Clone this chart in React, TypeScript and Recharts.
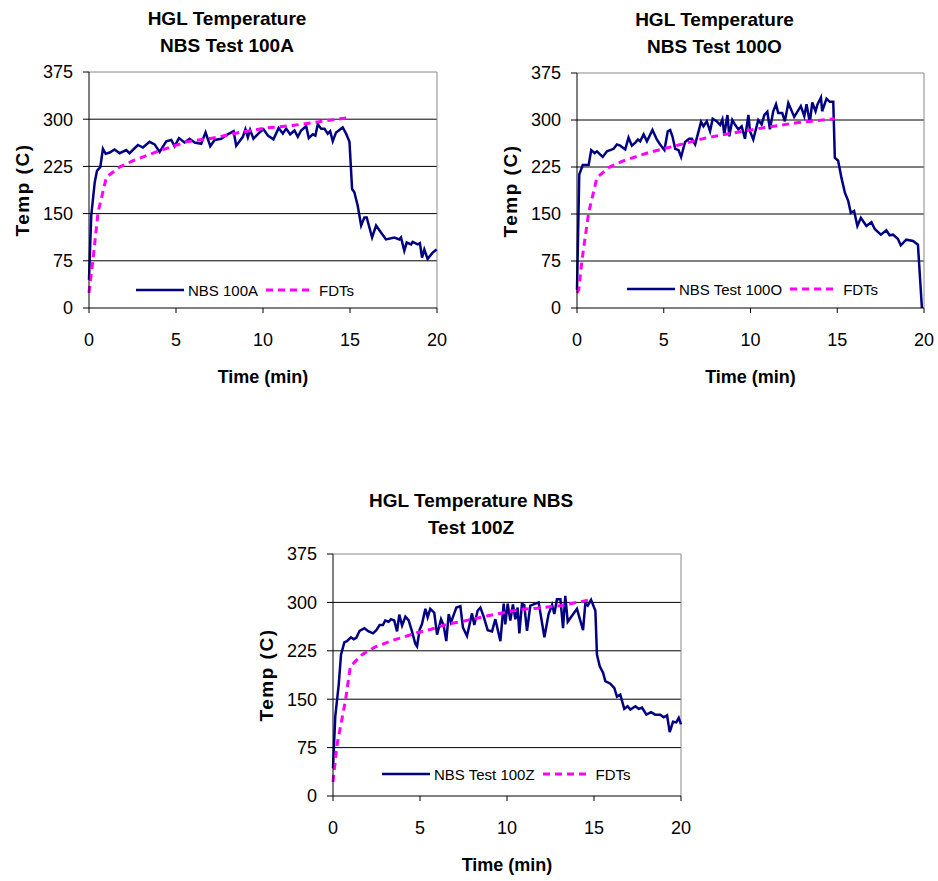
import { LineChart, Line, XAxis, YAxis, CartesianGrid, ReferenceLine, Legend } from "recharts";

type Pt = [number, number];

const TIME_TICKS = [0, 5, 10, 15, 20];
const TEMP_TICKS = [0, 75, 150, 225, 300, 375];
const GRID_TEMPS = [75, 150, 225, 300];

// NBS Test 100A  [time (min), temp (C)]
const nbs100A: Pt[] = [
  [0, 45], [0.13, 147], [0.33, 200], [0.46, 218], [0.65, 224], [0.8, 253], [0.96, 245],
  [1.19, 247], [1.47, 252], [1.76, 246], [2.14, 251], [2.33, 246], [2.81, 259], [3.1, 255],
  [3.48, 264], [3.77, 260], [4.06, 248], [4.44, 265], [4.73, 267], [4.92, 257], [5.17, 270],
  [5.49, 263], [5.78, 269], [6.07, 263], [6.45, 261], [6.7, 279], [6.97, 257], [7.22, 267],
  [7.6, 269], [7.98, 276], [8.31, 281], [8.46, 258], [8.84, 272], [8.99, 284], [9.13, 271],
  [9.26, 283], [9.45, 269], [9.8, 279], [10.03, 284], [10.28, 274], [10.6, 268], [10.9, 286],
  [11.14, 277], [11.33, 285], [11.56, 276], [11.81, 282], [12.0, 272], [12.19, 282], [12.48, 289],
  [12.63, 270], [12.86, 276], [13.01, 274], [13.15, 292], [13.34, 285], [13.53, 285], [13.72, 277],
  [13.86, 281], [14.01, 265], [14.2, 279], [14.58, 287], [14.78, 277], [14.97, 264], [15.12, 189],
  [15.25, 184], [15.44, 163], [15.64, 131], [15.83, 144], [15.96, 144], [16.27, 112], [16.5, 131],
  [16.78, 120], [17.07, 109], [17.55, 112], [17.84, 109], [17.93, 112], [18.12, 91], [18.26, 104],
  [18.51, 101], [18.6, 105], [18.89, 101], [19.02, 103], [19.14, 80], [19.27, 93], [19.46, 78],
  [19.75, 88], [19.98, 93],
];

const fdt100A: Pt[] = [
  [0, 24], [0.23, 77], [0.52, 152], [1.0, 208], [1.76, 224], [2.53, 234], [4.06, 250],
  [5.59, 264], [7.12, 270], [8.65, 279], [10.18, 286], [11.7, 290], [13.24, 296], [14.78, 302],
];

// NBS Test 100O
const nbs100O: Pt[] = [
  [0, 29], [0.13, 213], [0.33, 228], [0.67, 228], [0.82, 252], [1.02, 247], [1.15, 250],
  [1.48, 241], [1.73, 250], [2.11, 254], [2.3, 261], [2.49, 259], [2.78, 253], [2.97, 272],
  [3.16, 259], [3.36, 264], [3.51, 269], [3.64, 266], [3.84, 277], [4.03, 266], [4.35, 284],
  [4.6, 269], [4.79, 261], [5.04, 252], [5.23, 282], [5.37, 284], [5.5, 274], [5.66, 254],
  [5.85, 252], [6.0, 241], [6.23, 265], [6.46, 270], [6.62, 270], [6.81, 261], [7.15, 297],
  [7.29, 290], [7.48, 298], [7.67, 282], [7.82, 302], [8.05, 298], [8.25, 292], [8.38, 301],
  [8.49, 277], [8.67, 308], [8.78, 274], [8.95, 300], [9.1, 293], [9.3, 285], [9.49, 290],
  [9.68, 270], [9.88, 308], [9.97, 282], [10.16, 269], [10.45, 300], [10.64, 293], [10.8, 308],
  [10.97, 313], [11.12, 285], [11.31, 314], [11.47, 325], [11.6, 311], [11.83, 311], [11.98, 298],
  [12.18, 327], [12.52, 305], [12.9, 322], [13.1, 306], [13.23, 325], [13.42, 296], [13.56, 328],
  [13.75, 314], [13.86, 325], [14.06, 336], [14.13, 314], [14.38, 334], [14.57, 329], [14.77, 329],
  [14.86, 240], [15.05, 235], [15.24, 208], [15.44, 184], [15.63, 171], [15.78, 152], [15.97, 155],
  [16.16, 131], [16.36, 144], [16.68, 131], [16.97, 137], [17.16, 126], [17.51, 117], [17.83, 124],
  [18.02, 116], [18.22, 117], [18.5, 110], [18.66, 100], [18.98, 109], [19.37, 107], [19.65, 101],
  [19.88, 0],
];

const fdt100O: Pt[] = [
  [0, 24], [0.1, 29], [0.29, 77], [0.67, 152], [1.15, 208], [1.82, 224], [2.59, 234],
  [4.12, 248], [5.85, 260], [7.38, 271], [8.92, 279], [10.83, 288], [12.75, 296], [14.86, 302],
];

// NBS Test 100Z
const nbs100Z: Pt[] = [
  [0, 43], [0.13, 123], [0.33, 173], [0.46, 219], [0.65, 238], [0.8, 240], [1.03, 246],
  [1.19, 243], [1.34, 245], [1.53, 256], [1.8, 260], [2.05, 255], [2.3, 252], [2.49, 257],
  [2.68, 265], [2.87, 265], [3.0, 272], [3.2, 270], [3.33, 274], [3.52, 272], [3.68, 255],
  [3.81, 281], [3.97, 264], [4.16, 278], [4.35, 272], [4.54, 255], [4.73, 236], [4.83, 232],
  [4.98, 258], [5.11, 266], [5.31, 290], [5.44, 277], [5.59, 290], [5.82, 284], [5.98, 250],
  [6.21, 274], [6.36, 264], [6.51, 240], [6.65, 282], [6.78, 269], [7.09, 292], [7.32, 294],
  [7.47, 261], [7.7, 248], [7.99, 283], [8.12, 265], [8.31, 287], [8.47, 292], [8.66, 278],
  [8.89, 257], [9.14, 255], [9.33, 274], [9.62, 240], [9.81, 298], [9.9, 266], [10.04, 298],
  [10.19, 272], [10.34, 297], [10.48, 274], [10.61, 292], [10.71, 252], [10.86, 298], [10.99, 296],
  [11.15, 256], [11.34, 295], [11.53, 297], [11.82, 300], [12.15, 246], [12.39, 282], [12.59, 296],
  [12.72, 282], [12.87, 305], [13.07, 305], [13.22, 260], [13.35, 310], [13.49, 270], [14.02, 290],
  [14.37, 257], [14.5, 298], [14.64, 295], [14.83, 304], [15.08, 287], [15.17, 219], [15.33, 201],
  [15.52, 191], [15.65, 178], [15.94, 174], [16.17, 167], [16.32, 154], [16.51, 157], [16.74, 135],
  [16.93, 139], [17.09, 134], [17.38, 139], [17.57, 135], [17.76, 137], [18.01, 126], [18.28, 130],
  [18.52, 126], [18.81, 126], [19.0, 122], [19.2, 125], [19.35, 99], [19.54, 115], [19.73, 114],
  [19.87, 121], [20.0, 111],
];

const fdt100Z: Pt[] = [
  [0, 22], [0.23, 79], [0.71, 147], [1.0, 201], [1.67, 219], [2.43, 231], [3.3, 240],
  [4.83, 253], [5.59, 258], [6.55, 266], [7.51, 271], [8.85, 279], [9.81, 284], [10.77, 289],
  [11.72, 291], [13.07, 295], [14.79, 304],
];

const FONT = "'Liberation Sans', Arial, sans-serif";
const NAVY = "#000080";
const MAGENTA = "#FF00FF";

const toRows = (pts: Pt[]) => pts.map(([time, temp]) => ({ time, temp }));

type PanelProps = {
  title: string[];
  plotLeft: number;
  plotTop: number;
  plotW: number;
  plotH: number;
  measured: Pt[];
  model: Pt[];
  name: string;
  legendLeft: number;
  legendTop: number;
};

function TempLegend({ name }: { name: string }) {
  return (
    <div style={{ display: "flex", alignItems: "center", height: 20, fontFamily: FONT, fontSize: 15, whiteSpace: "nowrap" }}>
      <svg width={48} height={6} style={{ marginRight: 4 }}>
        <line x1={0} y1={3} x2={48} y2={3} stroke={NAVY} strokeWidth={2.5} />
      </svg>
      <span style={{ marginRight: 8 }}>{name}</span>
      <svg width={48} height={6} style={{ marginRight: 5 }}>
        <line x1={0} y1={3} x2={48} y2={3} stroke={MAGENTA} strokeWidth={3} strokeDasharray="7 5" />
      </svg>
      <span>FDTs</span>
    </div>
  );
}

function Panel(p: PanelProps) {
  const svgLeft = p.plotLeft - 80;
  const svgTop = p.plotTop - 20;
  const cx = p.plotLeft + p.plotW / 2;
  const cy = p.plotTop + p.plotH / 2;
  return (
    <>
      <div
        style={{
          position: "absolute",
          left: cx - 36,
          top: p.plotTop - 67,
          transform: "translateX(-50%)",
          fontFamily: FONT,
          fontWeight: "bold",
          fontSize: 19,
          lineHeight: "27px",
          textAlign: "center",
          whiteSpace: "nowrap",
        }}
      >
        {p.title.map((t) => (
          <div key={t}>{t}</div>
        ))}
      </div>
      <div
        style={{
          position: "absolute",
          left: p.plotLeft - 66,
          top: cy,
          transform: "translate(-50%, -50%) rotate(-90deg)",
          fontFamily: FONT,
          fontWeight: "bold",
          fontSize: 19,
          letterSpacing: "1.5px",
          whiteSpace: "nowrap",
        }}
      >
        Temp (C)
      </div>
      <div
        style={{
          position: "absolute",
          left: cx,
          top: p.plotTop + p.plotH + 69,
          transform: "translate(-50%, -50%)",
          fontFamily: FONT,
          fontWeight: "bold",
          fontSize: 18,
          whiteSpace: "nowrap",
        }}
      >
        Time (min)
      </div>
      <div style={{ position: "absolute", left: svgLeft, top: svgTop }}>
        <LineChart
          width={p.plotW + 100}
          height={p.plotH + 80}
          margin={{ top: 20, right: 20, bottom: 20, left: 20 }}
        >
          <CartesianGrid horizontal vertical={false} stroke="#000" horizontalValues={GRID_TEMPS} />
          <XAxis
            type="number"
            dataKey="time"
            domain={[0, 20]}
            ticks={TIME_TICKS}
            height={40}
            stroke="#000"
            tickSize={5}
            tickMargin={20}
            tick={{ fill: "#000", fontSize: 18, fontFamily: FONT }}
            allowDuplicatedCategory={false}
          />
          <YAxis
            type="number"
            domain={[0, 375]}
            ticks={TEMP_TICKS}
            width={60}
            stroke="#000"
            tickSize={6}
            tickMargin={10}
            tick={{ fill: "#000", fontSize: 18, fontFamily: FONT }}
          />
          <ReferenceLine y={375} stroke="#888" />
          <ReferenceLine x={20} stroke="#888" />
          <Line
            data={toRows(p.measured)}
            dataKey="temp"
            name={p.name}
            type="linear"
            stroke={NAVY}
            strokeWidth={2.5}
            dot={false}
            isAnimationActive={false}
          />
          <Line
            data={toRows(p.model)}
            dataKey="temp"
            name="FDTs"
            type="linear"
            stroke={MAGENTA}
            strokeWidth={3}
            strokeDasharray="7 5"
            dot={false}
            isAnimationActive={false}
          />
          <Legend
            layout="horizontal"
            verticalAlign="middle"
            align="center"
            wrapperStyle={{ left: p.legendLeft, top: p.legendTop, width: "auto" }}
            content={() => <TempLegend name={p.name} />}
          />
        </LineChart>
      </div>
    </>
  );
}

export default function App() {
  return (
    <div style={{ position: "absolute", left: 0, top: 0, width: 938, height: 881, background: "#fff" }}>
      <Panel
        title={["HGL Temperature", "NBS Test 100A"]}
        plotLeft={89}
        plotTop={72}
        plotW={348}
        plotH={236}
        measured={nbs100A}
        model={fdt100A}
        name="NBS 100A"
        legendLeft={127}
        legendTop={228}
      />
      <Panel
        title={["HGL Temperature", "NBS Test 100O"]}
        plotLeft={577}
        plotTop={73}
        plotW={347}
        plotH={235}
        measured={nbs100O}
        model={fdt100O}
        name="NBS Test 100O"
        legendLeft={130}
        legendTop={226}
      />
      <Panel
        title={["HGL Temperature NBS", "Test 100Z"]}
        plotLeft={333}
        plotTop={554}
        plotW={348}
        plotH={242}
        measured={nbs100Z}
        model={fdt100Z}
        name="NBS Test 100Z"
        legendLeft={129}
        legendTop={230}
      />
    </div>
  );
}
